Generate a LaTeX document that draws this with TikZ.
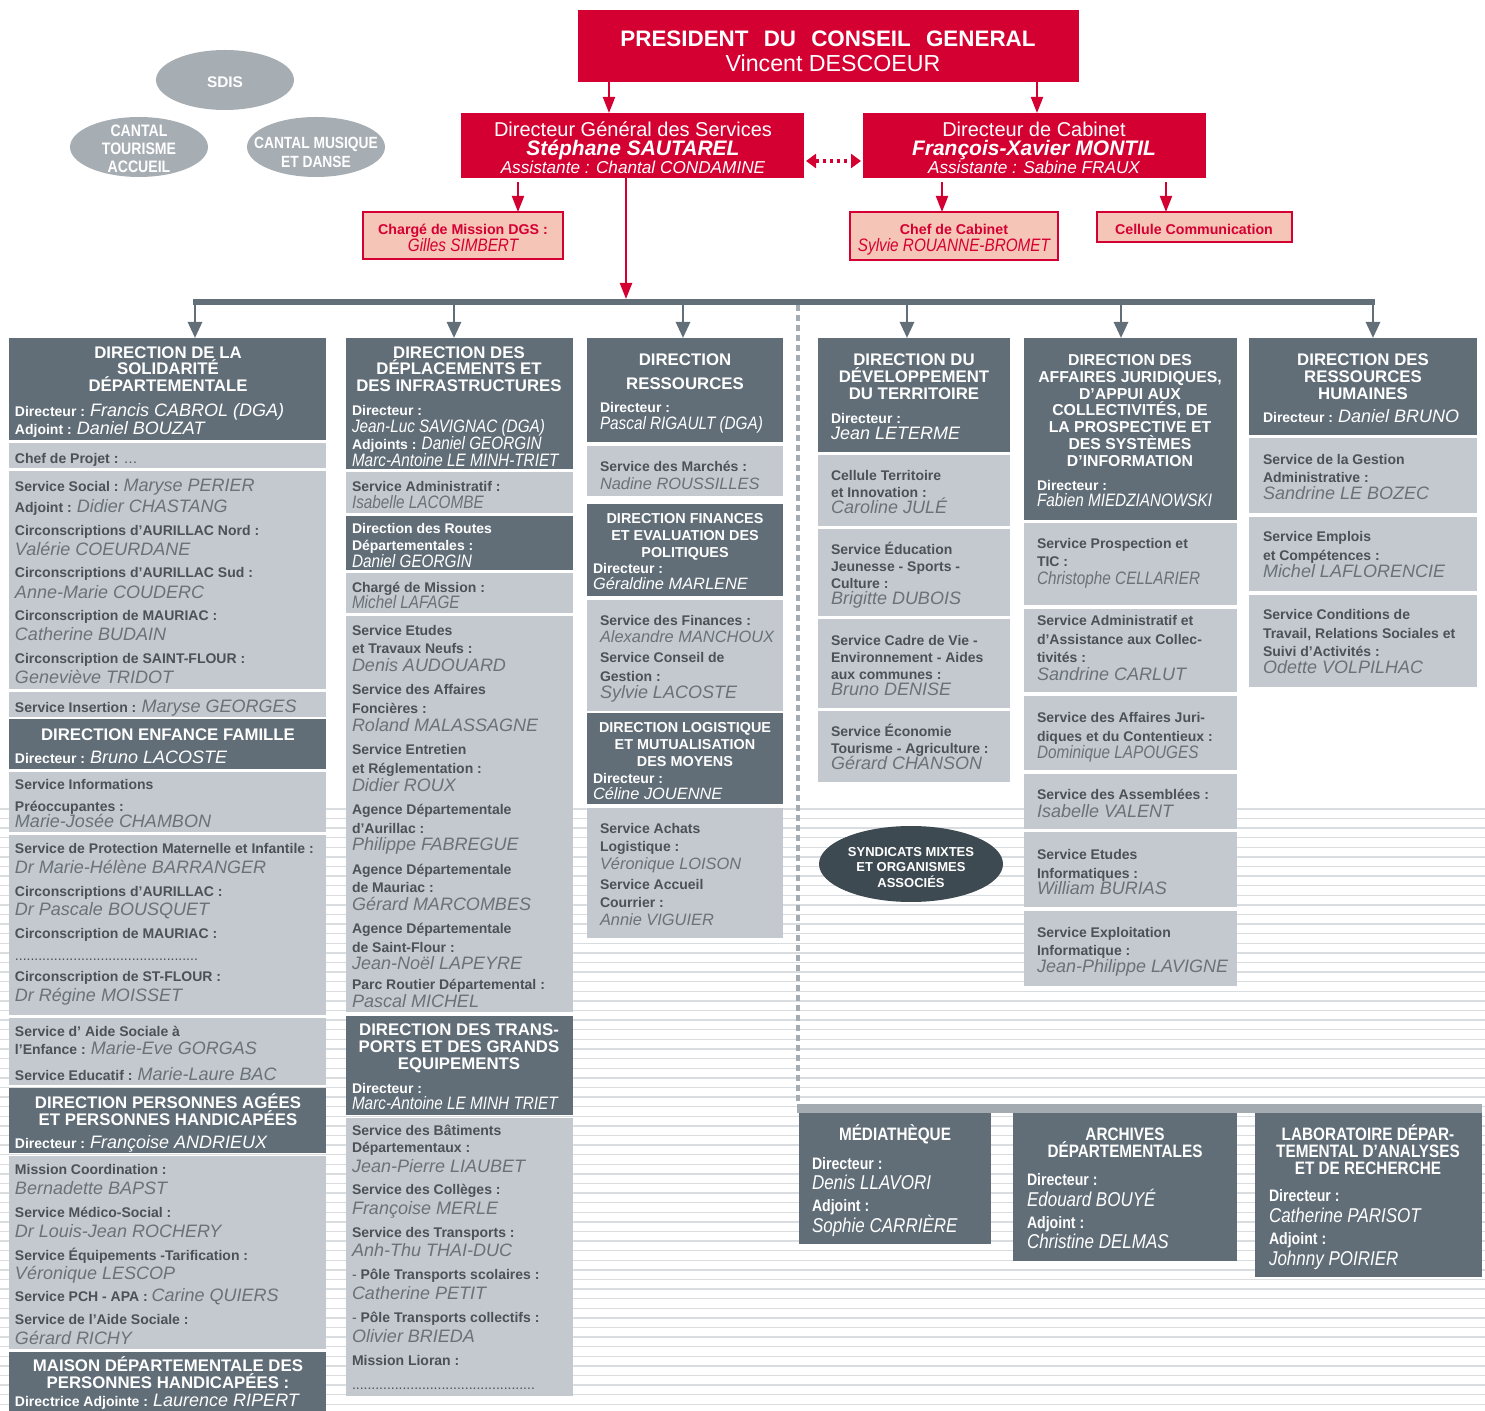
\documentclass[tikz,border=0pt]{standalone}
\usepackage{fontspec}
\setmainfont{Liberation Sans}
\newfontfamily\condf[FakeStretch=0.85]{Liberation Sans}
\usetikzlibrary{arrows.meta,shapes.geometric}
\definecolor{rd}{HTML}{D50032}
\definecolor{pk}{HTML}{F5C5B7}
\definecolor{dk}{HTML}{616E78}
\definecolor{lt}{HTML}{C3C9CE}
\definecolor{elg}{HTML}{A6ADB3}
\definecolor{syn}{HTML}{3E4A52}
\definecolor{labc}{HTML}{4B5157}
\definecolor{namc}{HTML}{6A7177}
\definecolor{barc}{HTML}{636F78}
\definecolor{bbarc}{HTML}{A4ABB1}
\definecolor{bgl}{HTML}{DADDE0}
\newcounter{tc}
\newcommand\TL[3]{\stepcounter{tc}\node[tx,anchor=mid west] (t\arabic{tc}) at (#1,#2) {#3};}
\newcommand\TC[3]{\stepcounter{tc}\node[tx,anchor=mid] (t\arabic{tc}) at (#1,#2) {#3};}
\newcommand\bx[6]{\node[#1,anchor=north west,minimum width={(#4-#2)*0.5pt},minimum height={(#5-#3)*0.5pt}] (#6) at (#2,#3) {};}
\newcommand\lab[1]{{\fontsize{7}{8}\selectfont\bfseries\color{labc}#1}}
\newcommand\nam[1]{{\fontsize{9}{10}\selectfont\itshape\color{namc}#1}}
\newcommand\namc[1]{{\condf\fontsize{9}{10}\selectfont\itshape\color{namc}#1}}
\newcommand\nams[1]{{\fontsize{8.2}{9}\selectfont\itshape\color{namc}#1}}
\newcommand\wlab[1]{{\fontsize{7}{8}\selectfont\bfseries\color{white}#1}}
\newcommand\wnam[1]{{\fontsize{9}{10}\selectfont\itshape\color{white}#1}}
\newcommand\wnamc[1]{{\condf\fontsize{9}{10}\selectfont\itshape\color{white}#1}}
\newcommand\wnams[1]{{\fontsize{8.2}{9}\selectfont\itshape\color{white}#1}}
\newcommand\ttl[1]{{\fontsize{8.4}{9}\selectfont\bfseries\color{white}#1}}
\newcommand\ttlm[1]{{\fontsize{7.9}{9}\selectfont\bfseries\color{white}#1}}
\newcommand\ttls[1]{{\fontsize{7.2}{8}\selectfont\bfseries\color{white}#1}}
\newcommand\bttl[1]{{\condf\fontsize{9}{10}\selectfont\bfseries\color{white}#1}}
\newcommand\blab[1]{{\condf\fontsize{8.3}{9}\selectfont\bfseries\color{white}#1}}
\newcommand\bnam[1]{{\condf\fontsize{10}{11}\selectfont\itshape\color{white}#1}}
\begin{document}
\begin{tikzpicture}[x=0.5pt,y={(0pt,-0.5pt)},
  box/.style={rectangle,inner sep=0pt,outer sep=0pt,draw=none},
  dbox/.style={box,fill=dk},
  lbox/.style={box,fill=lt},
  rbox/.style={box,fill=rd},
  pbox/.style={box,fill=pk,draw=rd,line width=0.7pt},
  barbox/.style={box,fill=barc},
  bbarbox/.style={box,fill=bbarc},
  tx/.style={inner sep=0pt,outer sep=0pt,yshift=-0.4pt,font=\fontsize{7}{8}\selectfont},
  ra/.style={draw=rd,line width=1pt,-{Triangle[width=6pt,length=8pt]}},
  ga/.style={draw=barc,line width=1.4pt,-{Triangle[width=7pt,length=8pt]}},
  ell/.style={ellipse,fill=elg,draw=none,inner sep=0pt,minimum width=69pt,minimum height=30pt}]
\useasboundingbox (0,0) rectangle (1485,1411);
\clip (0,0) rectangle (1485,1411);
% background ruled lines
\foreach \i in {0,...,62} \draw[draw=bgl,line width=0.7pt] (0,{809+9.6*\i}) -- (1485,{809+9.6*\i});

% ---------- top left ellipses
\node[ell] (sdis) at (225,80) {};
\node[ell] (cta) at (139,147) {};
\node[ell] (cmd) at (316,147) {};
\TC{225}{81}{\color{white}\fontsize{7.7}{8}\selectfont\bfseries SDIS}
\TC{139}{130}{\color{white}\condf\fontsize{8.3}{9}\selectfont\bfseries CANTAL}
\TC{139}{148}{\color{white}\condf\fontsize{8.3}{9}\selectfont\bfseries TOURISME}
\TC{139}{166}{\color{white}\condf\fontsize{8.3}{9}\selectfont\bfseries ACCUEIL}
\TC{316}{142}{\color{white}\condf\fontsize{8.1}{9}\selectfont\bfseries CANTAL MUSIQUE}
\TC{316}{161}{\color{white}\condf\fontsize{8.1}{9}\selectfont\bfseries ET DANSE}

% ---------- red boxes
\bx{rbox}{578}{10}{1079}{82}{pres}
\TC{828}{40}{\color{white}\fontsize{11.2}{12}\selectfont\bfseries PRESIDENT\hspace{0.4em} DU\hspace{0.4em} CONSEIL\hspace{0.4em} GENERAL}
\TC{833}{65}{\color{white}\fontsize{11.6}{12}\selectfont Vincent DESCOEUR}
\bx{rbox}{461}{113}{804}{178}{dgs}
\TC{633}{130}{\color{white}\fontsize{10}{11}\selectfont Directeur Général des Services}
\TC{633}{149}{\color{white}\fontsize{10.5}{11}\selectfont\bfseries\itshape Stéphane SAUTAREL}
\TC{633}{167}{\color{white}\fontsize{8.6}{9}\selectfont\itshape Assistante : Chantal CONDAMINE}
\bx{rbox}{863}{113}{1206}{178}{cab}
\TC{1034}{130}{\color{white}\fontsize{10}{11}\selectfont Directeur de Cabinet}
\TC{1034}{149}{\color{white}\fontsize{10.5}{11}\selectfont\bfseries\itshape François-Xavier MONTIL}
\TC{1034}{167}{\color{white}\fontsize{8.6}{9}\selectfont\itshape Assistante : Sabine FRAUX}

% pink boxes
\bx{pbox}{363}{212}{563}{259}{chm}
\TC{463}{228}{\color{rd}\fontsize{7.1}{8}\selectfont\bfseries Chargé de Mission DGS :}
\TC{463}{245}{\color{rd}\condf\fontsize{9}{10}\selectfont\itshape Gilles SIMBERT}
\bx{pbox}{850}{212}{1058}{260}{chc}
\TC{954}{228}{\color{rd}\fontsize{7.1}{8}\selectfont\bfseries Chef de Cabinet}
\TC{954}{245}{\color{rd}\condf\fontsize{9}{10}\selectfont\itshape Sylvie ROUANNE-BROMET}
\bx{pbox}{1097}{212}{1292}{242}{cco}
\TC{1194}{228}{\color{rd}\fontsize{7.1}{8}\selectfont\bfseries Cellule Communication}

% bars
\bx{barbox}{193}{299}{1375}{305}{bar}
\bx{bbarbox}{797}{1104}{1482}{1113}{bb}

% coordinates for connector abscissae
\coordinate (xp1) at (609,0);
\coordinate (xp2) at (1037,0);
\coordinate (xc) at (518,0);
\coordinate (xcc) at (942,0);
\coordinate (xcl) at (1166,0);
\coordinate (xm) at (626,0);
\coordinate (xd) at (798,0);
\coordinate (yd) at (0,161);
\coordinate (xa1) at (195,0);
\coordinate (xa2) at (454,0);
\coordinate (xa3) at (683,0);
\coordinate (xa4) at (907,0);
\coordinate (xa5) at (1121,0);
\coordinate (xa6) at (1373,0);

% ---------- column 1
\bx{dbox}{9}{338}{326}{440}{c1a}
\TC{168}{352}{\ttl{DIRECTION DE LA}}
\TC{168}{368}{\ttl{SOLIDARITÉ}}
\TC{168}{385}{\ttl{DÉPARTEMENTALE}}
\TL{15}{410}{\wlab{Directeur :} \wnam{Francis CABROL (DGA)}}
\TL{15}{428}{\wlab{Adjoint :} \wnam{Daniel BOUZAT}}
\bx{lbox}{9}{443}{326}{468}{c1b}
\TL{15}{457}{\lab{Chef de Projet : \mdseries…}}
\bx{lbox}{9}{471}{326}{689}{c1c}
\TL{15}{485}{\lab{Service Social :} \nam{Maryse PERIER}}
\TL{15}{506}{\lab{Adjoint :} \nam{Didier CHASTANG}}
\TL{15}{529}{\lab{Circonscriptions d’AURILLAC Nord :}}
\TL{15}{549}{\nam{Valérie COEURDANE}}
\TL{15}{571}{\lab{Circonscriptions d’AURILLAC Sud :}}
\TL{15}{592}{\nam{Anne-Marie COUDERC}}
\TL{15}{614}{\lab{Circonscription de MAURIAC :}}
\TL{15}{634}{\nam{Catherine BUDAIN}}
\TL{15}{657}{\lab{Circonscription de SAINT-FLOUR :}}
\TL{15}{677}{\nam{Geneviève TRIDOT}}
\bx{lbox}{9}{692}{326}{717}{c1d}
\TL{15}{706}{\lab{Service Insertion :} \nam{Maryse GEORGES}}
\bx{dbox}{9}{719}{326}{769}{c1e}
\TC{168}{734}{\ttl{DIRECTION ENFANCE FAMILLE}}
\TL{15}{757}{\wlab{Directeur :} \wnam{Bruno LACOSTE}}
\bx{lbox}{9}{772}{326}{832}{c1f}
\TL{15}{783}{\lab{Service Informations}}
\TL{15}{805}{\lab{Préoccupantes :}}
\TL{15}{821}{\nam{Marie-Josée CHAMBON}}
\bx{lbox}{9}{835}{326}{1015}{c1g}
\TL{15}{847}{\lab{Service de Protection Maternelle et Infantile :}}
\TL{15}{867}{\nam{Dr Marie-Hélène BARRANGER}}
\TL{15}{890}{\lab{Circonscriptions d’AURILLAC :}}
\TL{15}{909}{\nam{Dr Pascale BOUSQUET}}
\TL{15}{932}{\lab{Circonscription de MAURIAC :}}
\TL{15}{954}{\lab{\mdseries ...............................................}}
\TL{15}{975}{\lab{Circonscription de ST-FLOUR :}}
\TL{15}{995}{\nam{Dr Régine MOISSET}}
\bx{lbox}{9}{1018}{326}{1085}{c1h}
\TL{15}{1030}{\lab{Service d’ Aide Sociale à}}
\TL{15}{1048}{\lab{l’Enfance :} \nam{Marie-Eve GORGAS}}
\TL{15}{1074}{\lab{Service Educatif :} \nam{Marie-Laure BAC}}
\bx{dbox}{9}{1088}{326}{1153}{c1i}
\TC{168}{1102}{\ttl{DIRECTION PERSONNES AGÉES}}
\TC{168}{1119}{\ttl{ET PERSONNES HANDICAPÉES}}
\TL{15}{1142}{\wlab{Directeur :} \wnam{Françoise ANDRIEUX}}
\bx{lbox}{9}{1156}{326}{1349}{c1j}
\TL{15}{1168}{\lab{Mission Coordination :}}
\TL{15}{1188}{\nam{Bernadette BAPST}}
\TL{15}{1211}{\lab{Service Médico-Social :}}
\TL{15}{1231}{\nam{Dr Louis-Jean ROCHERY}}
\TL{15}{1254}{\lab{Service Équipements -Tarification :}}
\TL{15}{1273}{\nam{Véronique LESCOP}}
\TL{15}{1295}{\lab{Service PCH - APA :} \nam{Carine QUIERS}}
\TL{15}{1318}{\lab{Service de l’Aide Sociale :}}
\TL{15}{1338}{\nam{Gérard RICHY}}
\bx{dbox}{9}{1352}{326}{1430}{c1k}
\TC{168}{1365}{\ttl{MAISON DÉPARTEMENTALE DES}}
\TC{168}{1382}{\ttl{PERSONNES HANDICAPÉES :}}
\TL{15}{1400}{\wlab{Directrice Adjointe :} \wnam{Laurence RIPERT}}

% ---------- column 2
\bx{dbox}{346}{338}{573}{469}{c2a}
\TC{459}{352}{\ttl{DIRECTION DES}}
\TC{459}{368}{\ttl{DÉPLACEMENTS ET}}
\TC{459}{385}{\ttl{DES INFRASTRUCTURES}}
\TL{352}{409}{\wlab{Directeur :}}
\TL{352}{426}{\wnamc{Jean-Luc SAVIGNAC (DGA)}}
\TL{352}{443}{\wlab{Adjoints :} \wnamc{Daniel GEORGIN}}
\TL{352}{460}{\wnamc{Marc-Antoine LE MINH-TRIET}}
\bx{lbox}{346}{472}{573}{513}{c2b}
\TL{352}{485}{\lab{Service Administratif :}}
\TL{352}{502}{\namc{Isabelle LACOMBE}}
\bx{dbox}{346}{516}{573}{570}{c2c}
\TL{352}{527}{\wlab{Direction des Routes}}
\TL{352}{544}{\wlab{Départementales :}}
\TL{352}{561}{\wnamc{Daniel GEORGIN}}
\bx{lbox}{346}{573}{573}{613}{c2d}
\TL{352}{586}{\lab{Chargé de Mission :}}
\TL{352}{602}{\namc{Michel LAFAGE}}
\bx{lbox}{346}{616}{573}{1012}{c2e}
\TL{352}{629}{\lab{Service Etudes}}
\TL{352}{647}{\lab{et Travaux Neufs :}}
\TL{352}{665}{\nam{Denis AUDOUARD}}
\TL{352}{688}{\lab{Service des Affaires}}
\TL{352}{707}{\lab{Foncières :}}
\TL{352}{725}{\nam{Roland MALASSAGNE}}
\TL{352}{748}{\lab{Service Entretien}}
\TL{352}{767}{\lab{et Réglementation :}}
\TL{352}{785}{\nam{Didier ROUX}}
\TL{352}{808}{\lab{Agence Départementale}}
\TL{352}{827}{\lab{d’Aurillac :}}
\TL{352}{844}{\nam{Philippe FABREGUE}}
\TL{352}{868}{\lab{Agence Départementale}}
\TL{352}{886}{\lab{de Mauriac :}}
\TL{352}{904}{\nam{Gérard MARCOMBES}}
\TL{352}{927}{\lab{Agence Départementale}}
\TL{352}{946}{\lab{de Saint-Flour :}}
\TL{352}{963}{\nam{Jean-Noël LAPEYRE}}
\TL{352}{983}{\lab{Parc Routier Départemental :}}
\TL{352}{1001}{\nam{Pascal MICHEL}}
\bx{dbox}{346}{1016}{573}{1115}{c2f}
\TC{459}{1029}{\ttl{DIRECTION DES TRANS-}}
\TC{459}{1046}{\ttl{PORTS ET DES GRANDS}}
\TC{459}{1063}{\ttl{EQUIPEMENTS}}
\TL{352}{1087}{\wlab{Directeur :}}
\TL{352}{1103}{\wnamc{Marc-Antoine LE MINH TRIET}}
\bx{lbox}{346}{1118}{573}{1396}{c2g}
\TL{352}{1129}{\lab{Service des Bâtiments}}
\TL{352}{1146}{\lab{Départementaux :}}
\TL{352}{1166}{\nam{Jean-Pierre LIAUBET}}
\TL{352}{1188}{\lab{Service des Collèges :}}
\TL{352}{1208}{\nam{Françoise MERLE}}
\TL{352}{1231}{\lab{Service des Transports :}}
\TL{352}{1250}{\nam{Anh-Thu THAI-DUC}}
\TL{352}{1273}{\lab{\mdseries -\ \bfseries Pôle Transports scolaires :}}
\TL{352}{1293}{\nam{Catherine PETIT}}
\TL{352}{1316}{\lab{\mdseries -\ \bfseries Pôle Transports collectifs :}}
\TL{352}{1336}{\nam{Olivier BRIEDA}}
\TL{352}{1359}{\lab{Mission Lioran :}}
\TL{352}{1383}{\lab{\mdseries ...............................................}}

% ---------- column 3
\bx{dbox}{587}{338}{783}{442}{c3a}
\TC{685}{359}{\ttl{DIRECTION}}
\TC{685}{383}{\ttl{RESSOURCES}}
\TL{600}{406}{\wlab{Directeur :}}
\TL{600}{423}{\wnamc{Pascal RIGAULT (DGA)}}
\bx{lbox}{587}{446}{783}{496}{c3b}
\TL{600}{465}{\lab{Service des Marchés :}}
\TL{600}{483}{\nams{Nadine ROUSSILLES}}
\bx{dbox}{587}{504}{783}{596}{c3c}
\TC{685}{517}{\ttls{DIRECTION FINANCES}}
\TC{685}{534}{\ttls{ET EVALUATION DES}}
\TC{685}{551}{\ttls{POLITIQUES}}
\TL{593}{567}{\wlab{Directeur :}}
\TL{593}{583}{\wnams{Géraldine MARLENE}}
\bx{lbox}{587}{600}{783}{711}{c3d}
\TL{600}{619}{\lab{Service des Finances :}}
\TL{600}{636}{\nams{Alexandre MANCHOUX}}
\TL{600}{656}{\lab{Service Conseil de}}
\TL{600}{675}{\lab{Gestion :}}
\TL{600}{692}{\nam{Sylvie LACOSTE}}
\bx{dbox}{587}{713}{783}{804}{c3e}
\TC{685}{726}{\ttls{DIRECTION LOGISTIQUE}}
\TC{685}{743}{\ttls{ET MUTUALISATION}}
\TC{685}{760}{\ttls{DES MOYENS}}
\TL{593}{777}{\wlab{Directeur :}}
\TL{593}{793}{\wnams{Céline JOUENNE}}
\bx{lbox}{587}{808}{783}{938}{c3f}
\TL{600}{827}{\lab{Service Achats}}
\TL{600}{845}{\lab{Logistique :}}
\TL{600}{863}{\nams{Véronique LOISON}}
\TL{600}{883}{\lab{Service Accueil}}
\TL{600}{901}{\lab{Courrier :}}
\TL{600}{919}{\nams{Annie VIGUIER}}

% ---------- column 4
\bx{dbox}{818}{338}{1010}{452}{c4a}
\TC{914}{359}{\ttl{DIRECTION DU}}
\TC{914}{376}{\ttl{DÉVELOPPEMENT}}
\TC{914}{393}{\ttl{DU TERRITOIRE}}
\TL{831}{417}{\wlab{Directeur :}}
\TL{831}{433}{\wnam{Jean LETERME}}
\bx{lbox}{818}{455}{1010}{526}{c4b}
\TL{831}{474}{\lab{Cellule Territoire}}
\TL{831}{491}{\lab{et Innovation :}}
\TL{831}{507}{\nam{Caroline JULÉ}}
\bx{lbox}{818}{529}{1010}{616}{c4c}
\TL{831}{548}{\lab{Service Éducation}}
\TL{831}{565}{\lab{Jeunesse - Sports -}}
\TL{831}{582}{\lab{Culture :}}
\TL{831}{598}{\nam{Brigitte DUBOIS}}
\bx{lbox}{818}{619}{1010}{708}{c4d}
\TL{831}{639}{\lab{Service Cadre de Vie -}}
\TL{831}{656}{\lab{Environnement - Aides}}
\TL{831}{673}{\lab{aux communes :}}
\TL{831}{689}{\nam{Bruno DENISE}}
\bx{lbox}{818}{711}{1010}{782}{c4e}
\TL{831}{730}{\lab{Service Économie}}
\TL{831}{747}{\lab{Tourisme - Agriculture :}}
\TL{831}{763}{\nam{Gérard CHANSON}}
\node[ellipse,fill=syn,inner sep=0pt,minimum width=92pt,minimum height=38pt] (synd) at (911,864) {};
\TC{911}{850}{\color{white}\fontsize{6.5}{7}\selectfont\bfseries SYNDICATS MIXTES}
\TC{911}{865}{\color{white}\fontsize{6.5}{7}\selectfont\bfseries ET ORGANISMES}
\TC{911}{881}{\color{white}\fontsize{6.5}{7}\selectfont\bfseries ASSOCIÉS}

% ---------- column 5
\bx{dbox}{1024}{338}{1237}{520}{c5a}
\TC{1130}{359}{\ttlm{DIRECTION DES}}
\TC{1130}{376}{\ttlm{AFFAIRES JURIDIQUES,}}
\TC{1130}{393}{\ttlm{D’APPUI AUX}}
\TC{1130}{409}{\ttlm{COLLECTIVITÉS, DE}}
\TC{1130}{426}{\ttlm{LA PROSPECTIVE ET}}
\TC{1130}{443}{\ttlm{DES SYSTÈMES}}
\TC{1130}{460}{\ttlm{D’INFORMATION}}
\TL{1037}{484}{\wlab{Directeur :}}
\TL{1037}{500}{\wnamc{Fabien MIEDZIANOWSKI}}
\bx{lbox}{1024}{523}{1237}{605}{c5b}
\TL{1037}{542}{\lab{Service Prospection et}}
\TL{1037}{560}{\lab{TIC :}}
\TL{1037}{578}{\namc{Christophe CELLARIER}}
\bx{lbox}{1024}{609}{1237}{692}{c5c}
\TL{1037}{619}{\lab{Service Administratif et}}
\TL{1037}{638}{\lab{d’Assistance aux Collec-}}
\TL{1037}{656}{\lab{tivités :}}
\TL{1037}{674}{\nam{Sandrine CARLUT}}
\bx{lbox}{1024}{696}{1237}{770}{c5d}
\TL{1037}{716}{\lab{Service des Affaires Juri-}}
\TL{1037}{735}{\lab{diques et du Contentieux :}}
\TL{1037}{752}{\namc{Dominique LAPOUGES}}
\bx{lbox}{1024}{774}{1237}{829}{c5e}
\TL{1037}{793}{\lab{Service des Assemblées :}}
\TL{1037}{811}{\nam{Isabelle VALENT}}
\bx{lbox}{1024}{832}{1237}{907}{c5f}
\TL{1037}{853}{\lab{Service Etudes}}
\TL{1037}{872}{\lab{Informatiques :}}
\TL{1037}{888}{\nam{William BURIAS}}
\bx{lbox}{1024}{911}{1237}{986}{c5g}
\TL{1037}{931}{\lab{Service Exploitation}}
\TL{1037}{949}{\lab{Informatique :}}
\TL{1037}{966}{\nam{Jean-Philippe LAVIGNE}}

% ---------- column 6
\bx{dbox}{1249}{338}{1477}{435}{c6a}
\TC{1363}{359}{\ttl{DIRECTION DES}}
\TC{1363}{376}{\ttl{RESSOURCES}}
\TC{1363}{393}{\ttl{HUMAINES}}
\TL{1263}{416}{\wlab{Directeur :} \wnam{Daniel BRUNO}}
\bx{lbox}{1249}{438}{1477}{513}{c6b}
\TL{1263}{458}{\lab{Service de la Gestion}}
\TL{1263}{476}{\lab{Administrative :}}
\TL{1263}{493}{\nam{Sandrine LE BOZEC}}
\bx{lbox}{1249}{517}{1477}{591}{c6c}
\TL{1263}{535}{\lab{Service Emplois}}
\TL{1263}{554}{\lab{et Compétences :}}
\TL{1263}{571}{\nam{Michel LAFLORENCIE}}
\bx{lbox}{1249}{595}{1477}{687}{c6d}
\TL{1263}{613}{\lab{Service Conditions de}}
\TL{1263}{632}{\lab{Travail, Relations Sociales et}}
\TL{1263}{650}{\lab{Suivi d’Activités :}}
\TL{1263}{667}{\nam{Odette VOLPILHAC}}

% ---------- bottom row
\bx{dbox}{799}{1113}{991}{1244}{med}
\TC{895}{1134}{\bttl{MÉDIATHÈQUE}}
\TL{812}{1163}{\blab{Directeur :}}
\TL{812}{1183}{\bnam{Denis LLAVORI}}
\TL{812}{1205}{\blab{Adjoint :}}
\TL{812}{1226}{\bnam{Sophie CARRIÈRE}}
\bx{dbox}{1013}{1113}{1237}{1261}{arc}
\TC{1125}{1134}{\bttl{ARCHIVES}}
\TC{1125}{1151}{\bttl{DÉPARTEMENTALES}}
\TL{1027}{1179}{\blab{Directeur :}}
\TL{1027}{1200}{\bnam{Edouard BOUYÉ}}
\TL{1027}{1222}{\blab{Adjoint :}}
\TL{1027}{1242}{\bnam{Christine DELMAS}}
\bx{dbox}{1255}{1113}{1482}{1277}{lab}
\TC{1368}{1134}{\bttl{LABORATOIRE DÉPAR-}}
\TC{1368}{1151}{\bttl{TEMENTAL D’ANALYSES}}
\TC{1368}{1168}{\bttl{ET DE RECHERCHE}}
\TL{1269}{1195}{\blab{Directeur :}}
\TL{1269}{1216}{\bnam{Catherine PARISOT}}
\TL{1269}{1238}{\blab{Adjoint :}}
\TL{1269}{1259}{\bnam{Johnny POIRIER}}

% ---------- connectors
\draw[ra] (pres.south -| xp1) -- (dgs.north -| xp1);
\draw[ra] (pres.south -| xp2) -- (cab.north -| xp2);
\draw[ra,shorten <=2pt] (dgs.south -| xc) -- (chm.north -| xc);
\draw[ra,shorten <=2pt] (cab.south -| xcc) -- (chc.north -| xcc);
\draw[ra,shorten <=2pt] (cab.south -| xcl) -- (cco.north -| xcl);
\draw[ra,line width=1.2pt] (dgs.south -| xm) -- (bar.north -| xm);
\draw[draw=rd,line width=1.6pt,dotted,{Triangle[width=7pt,length=5pt]}-{Triangle[width=7pt,length=5pt]},shorten <=1pt,shorten >=1pt] (dgs.east |- yd) -- (cab.west |- yd);
\draw[ga] (bar.south -| xa1) -- (c1a.north -| xa1);
\draw[ga] (bar.south -| xa2) -- (c2a.north -| xa2);
\draw[ga] (bar.south -| xa3) -- (c3a.north -| xa3);
\draw[ga] (bar.south -| xa4) -- (c4a.north -| xa4);
\draw[ga] (bar.south -| xa5) -- (c5a.north -| xa5);
\draw[ga] (bar.south -| xa6) -- (c6a.north -| xa6);
\draw[draw=bbarc,line width=2pt,dash pattern=on 3pt off 2pt] (bar.south -| xd) -- (bb.north -| xd);
\end{tikzpicture}
\end{document}
